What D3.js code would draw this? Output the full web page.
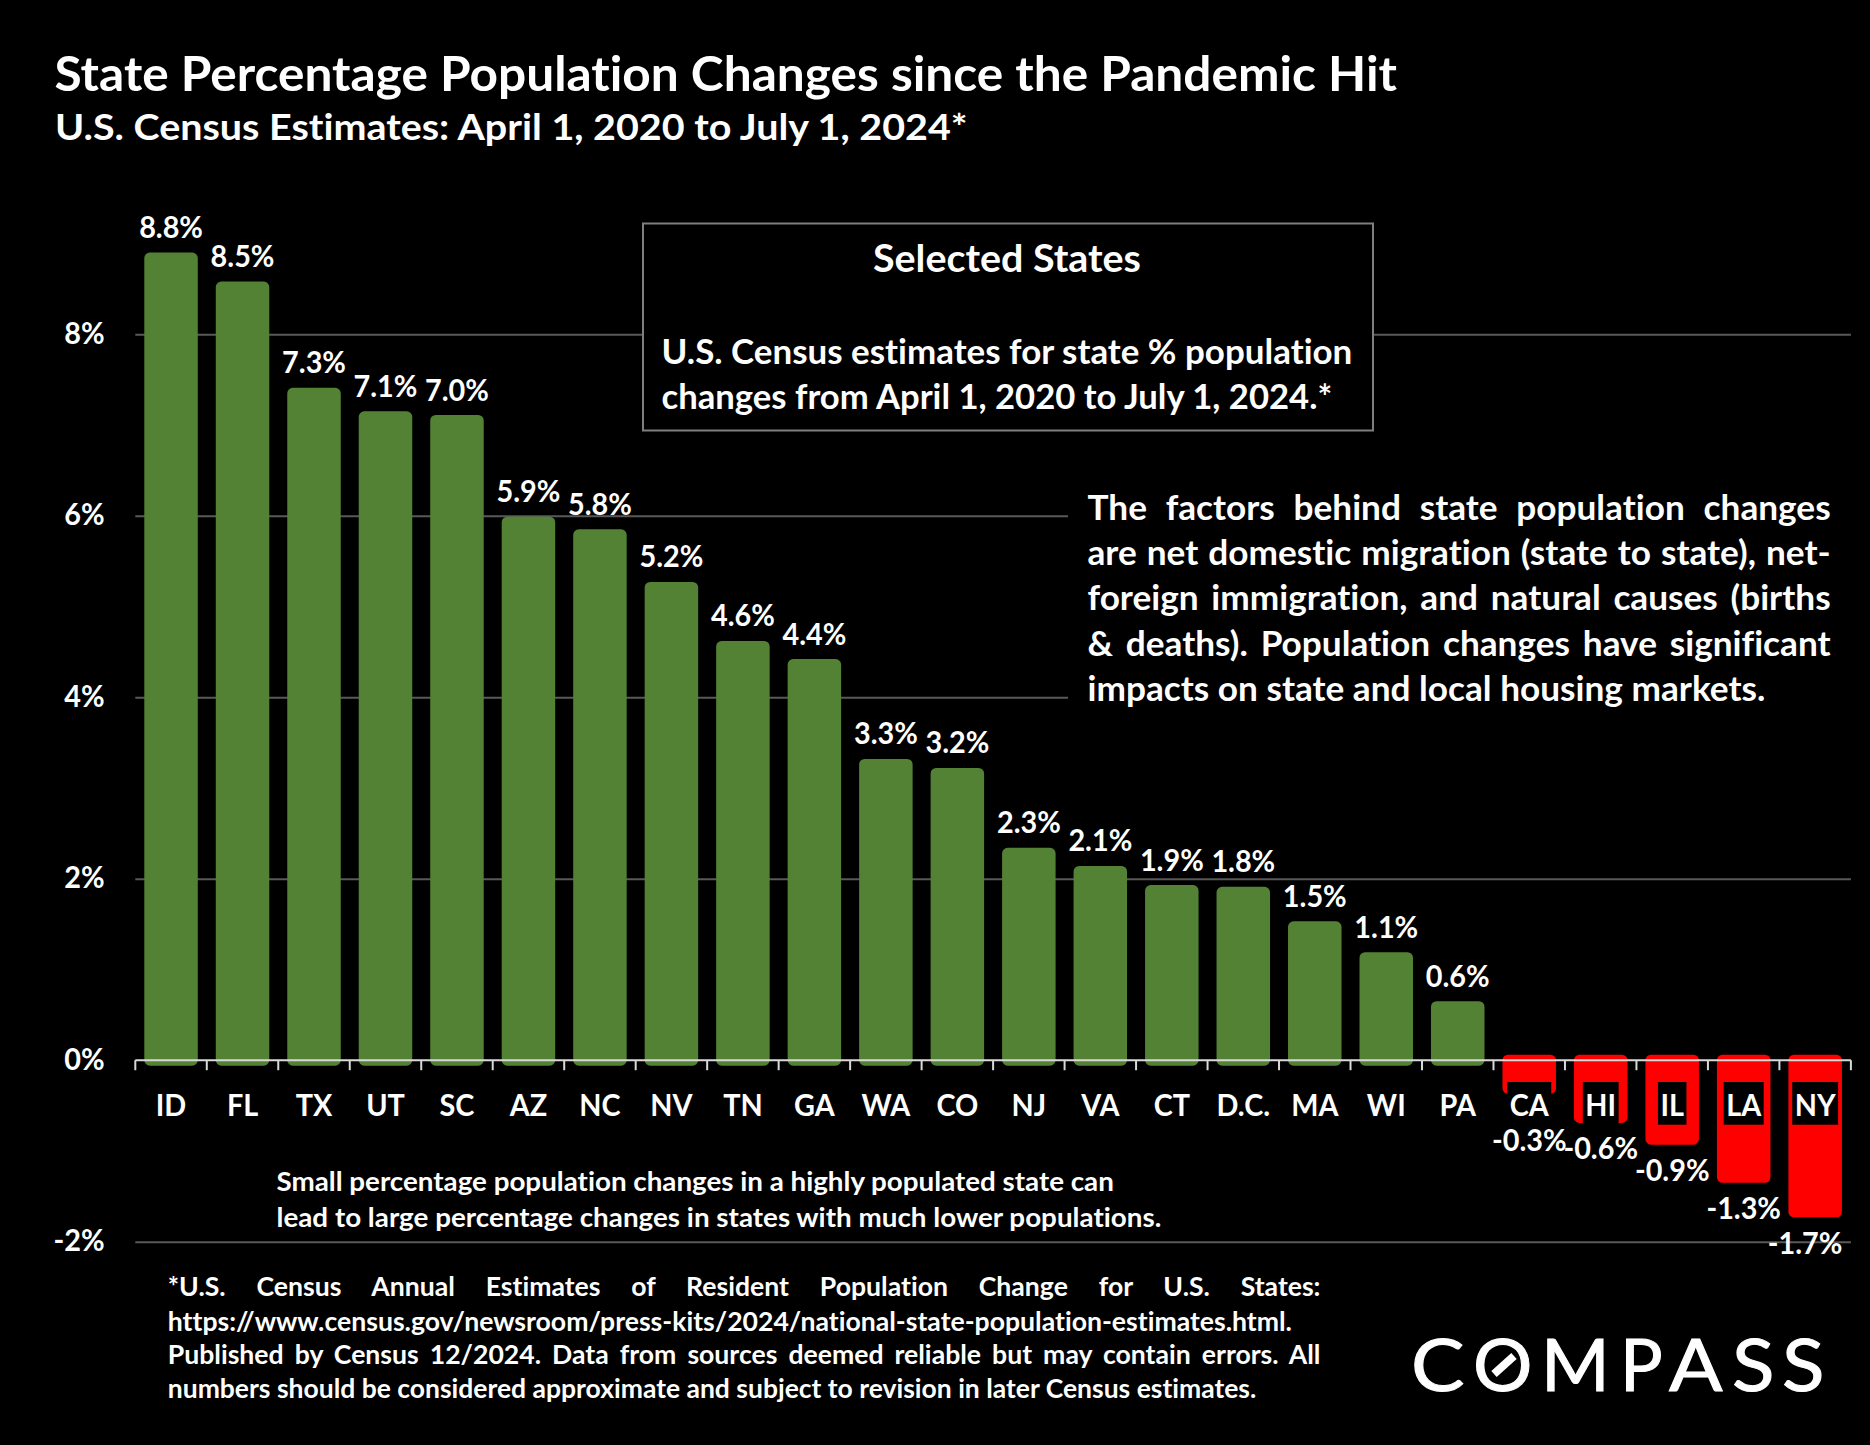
<!DOCTYPE html>
<html>
<head>
<meta charset="utf-8">
<script src="https://cdn.jsdelivr.net/npm/d3@7"></script>
<style>
  html, body { margin: 0; background: #000; }
  svg { display: block; }
  text { fill: #fff; font-family: Lato, "Open Sans", sans-serif; font-weight: 700; font-variant-ligatures: none; }
</style>
</head>
<body>
<script>
var states = ['ID','FL','TX','UT','SC','AZ','NC','NV','TN','GA','WA','CO','NJ','VA','CT','D.C.','MA','WI','PA','CA','HI','IL','LA','NY'];
var changes = [8.84,8.52,7.35,7.09,7.05,5.93,5.79,5.21,4.56,4.36,3.26,3.16,2.28,2.08,1.87,1.85,1.47,1.13,0.59,-0.31,-0.63,-0.87,-1.29,-1.67];
var changeLabels = ['8.8%','8.5%','7.3%','7.1%','7.0%','5.9%','5.8%','5.2%','4.6%','4.4%','3.3%','3.2%','2.3%','2.1%','1.9%','1.8%','1.5%','1.1%','0.6%','-0.3%','-0.6%','-0.9%','-1.3%','-1.7%'];
var yTicks = [-2,0,2,4,6,8];
var yTickLabels = ['-2%','0%','2%','4%','6%','8%'];

var boxLines = ['U.S. Census estimates for state % population', 'changes from April 1, 2020 to July 1, 2024.*'];
var sideLines = [
  'The factors behind state population changes',
  'are net domestic migration (state to state), net-',
  'foreign immigration, and natural causes (births',
  '& deaths). Population changes have significant',
  'impacts on state and local housing markets.'
];
var noteLines = [
  'Small percentage population changes in a highly populated state can',
  'lead to large percentage changes in states with much lower populations.'
];
var sourceLines = [
  '*U.S. Census Annual Estimates of Resident Population Change for U.S. States:',
  'https://www.census.gov/newsroom/press-kits/2024/national-state-population-estimates.html.',
  'Published by Census 12/2024. Data from sources deemed reliable but may contain errors. All',
  'numbers should be considered approximate and subject to revision in later Census estimates.'
];

var barStroke = 11;

var svg = d3.select('body').append('svg')
  .attr('width', 1870)
  .attr('height', 1445);

svg.append('rect').attr('width', 1870).attr('height', 1445).attr('fill', '#000');

var x = d3.scaleBand()
  .domain(states)
  .range([135.3, 1850.9])
  .paddingInner(0.4056)
  .paddingOuter(0.2028);

var y = d3.scaleLinear()
  .domain([-2, 8])
  .range([1241.7, 334.3]);

// text helper: squeezes Lato horizontally, since the original face is narrower
function put(str, px, py, size, opts) {
  opts = opts || {};
  var t = svg.append('text')
    .attr('font-size', size)
    .attr('text-anchor', opts.anchor || 'start')
    .text(str);
  var w = t.node().getComputedTextLength();
  var k = opts.k || 1;
  if (opts.width && !opts.justify) k = opts.width / w;
  if (opts.justify) {
    var spaces = str.split(' ').length - 1;
    t.style('word-spacing', ((opts.width / k - w) / spaces) + 'px');
  }
  t.attr('transform', 'translate(' + px + ',' + py + ') scale(' + k + ',1)');
  return t;
}

function natural(str, size) {
  var t = svg.append('text').attr('font-size', size).text(str);
  var w = t.node().getComputedTextLength();
  t.remove();
  return w;
}

// gridlines
var grid = svg.append('g')
  .attr('transform', 'translate(135.3,0)')
  .call(d3.axisLeft(y).tickValues(yTicks.filter(function(d) { return d !== 0; })).tickSize(-1715.6).tickFormat(''));
grid.select('.domain').remove();
grid.selectAll('line').attr('stroke', '#595959').attr('stroke-width', 2);

// boxes sit on top of the gridlines
svg.append('rect')
  .attr('x', 643).attr('y', 223.5).attr('width', 730).attr('height', 207)
  .attr('fill', '#000').attr('stroke', '#7f7f7f').attr('stroke-width', 2);
svg.append('rect')
  .attr('x', 1068).attr('y', 490).attr('width', 802).attr('height', 230)
  .attr('fill', '#000');

// bars
svg.append('g').selectAll('rect')
  .data(changes)
  .enter()
  .append('rect')
  .attr('x', function(d, i) { return x(states[i]); })
  .attr('width', x.bandwidth())
  .attr('y', function(d) { return Math.min(y(d), y(0)); })
  .attr('height', function(d) { return Math.abs(y(d) - y(0)); })
  .attr('fill', function(d) { return d < 0 ? '#ff0000' : '#548235'; })
  .attr('stroke', function(d) { return d < 0 ? '#ff0000' : '#548235'; })
  .attr('stroke-width', barStroke)
  .attr('stroke-linejoin', 'round');

// x axis with ticks between the categories
var edge = x.step() * x.paddingOuter();
var axisColor = '#d9d9d9';
svg.append('line')
  .attr('x1', x(states[0]) - edge).attr('x2', x(states[states.length - 1]) + x.bandwidth() + edge)
  .attr('y1', y(0)).attr('y2', y(0))
  .attr('stroke', axisColor).attr('stroke-width', 2);
svg.append('g').selectAll('line')
  .data(states.concat(['end']))
  .enter()
  .append('line')
  .attr('x1', function(d, i) { return i < states.length ? x(d) - edge : x(states[i - 1]) + x.bandwidth() + edge; })
  .attr('x2', function(d, i) { return i < states.length ? x(d) - edge : x(states[i - 1]) + x.bandwidth() + edge; })
  .attr('y1', y(0)).attr('y2', y(0) + 10)
  .attr('stroke', axisColor).attr('stroke-width', 2);

// category labels, each with a black plate that cuts into the red bars
states.forEach(function(s) {
  var cx = x(s) + x.bandwidth() / 2;
  var t = put(s, cx, 1115.5, 31, { anchor: 'middle', k: 0.93 });
  var w = t.node().getComputedTextLength() * 0.93 + 5;
  svg.insert('rect', function() { return t.node(); })
    .attr('x', cx - w / 2).attr('width', w)
    .attr('y', 1082).attr('height', 42.7)
    .attr('fill', '#000');
});

// value labels
changes.forEach(function(d, i) {
  var cx = Math.min(x(states[i]) + x.bandwidth() / 2, 1805);
  var ly = d >= 0 ? y(d) - 20 : Math.max(y(d) + 42, 1150.5);
  put(changeLabels[i], cx, ly, 30, { anchor: 'middle', k: 0.96 });
});

// y labels
yTicks.forEach(function(d, i) {
  put(yTickLabels[i], 104.5, y(d) + 9.5, 30, { anchor: 'end', k: 0.96 });
});

// headings
put('State Percentage Population Changes since the Pandemic Hit', 54.5, 91, 48, { width: 1343 });
put('U.S. Census Estimates: April 1, 2020 to July 1, 2024*', 55, 139.8, 36, { width: 913 });

// box text
put('Selected States', 873, 272, 38, { width: 268 });
put(boxLines[0], 661.5, 364, 34, { width: 691 });
put(boxLines[1], 661.5, 409, 34, { width: 671 });

// side paragraph
var sideK = 678 / natural(sideLines[4], 34);
var sideY = [520, 565, 610, 655.5, 700.5];
sideLines.forEach(function(l, i) {
  if (i < 4) put(l, 1087.5, sideY[i], 34, { k: sideK, width: 743.3, justify: true });
  else put(l, 1087.5, sideY[i], 34, { k: sideK });
});

// note under the axis
put(noteLines[0], 276.5, 1191, 26.5, { width: 838 });
put(noteLines[1], 276.5, 1227, 26.5, { width: 885 });

// source
var srcK = 1124.5 / natural(sourceLines[1], 26);
var srcY = [1296, 1330.5, 1364, 1397.5];
put(sourceLines[0], 167.8, srcY[0], 26, { k: srcK, width: 1153, justify: true });
put(sourceLines[1], 167.8, srcY[1], 26, { k: srcK });
put(sourceLines[2], 167.8, srcY[2], 26, { k: srcK, width: 1153, justify: true });
put(sourceLines[3], 167.8, srcY[3], 26, { width: 1089 });

// wordmark
var logoLetters = ['C','O','M','P','A','S','S'];
var logoX = [1411, 1473, 1541, 1620, 1669, 1732, 1782];
var logoW = [53, 60, 70, 44, 55, 43, 43];
logoLetters.forEach(function(c, i) {
  put(c, logoX[i], 1390.7, 72, { width: logoW[i] })
    .style('font-weight', 400)
    .attr('stroke', '#fff')
    .attr('stroke-width', 1);
});
svg.append('line')
  .attr('x1', 1494).attr('y1', 1374).attr('x2', 1514).attr('y2', 1356)
  .attr('stroke', '#fff').attr('stroke-width', 8);
</script>
</body>
</html>
